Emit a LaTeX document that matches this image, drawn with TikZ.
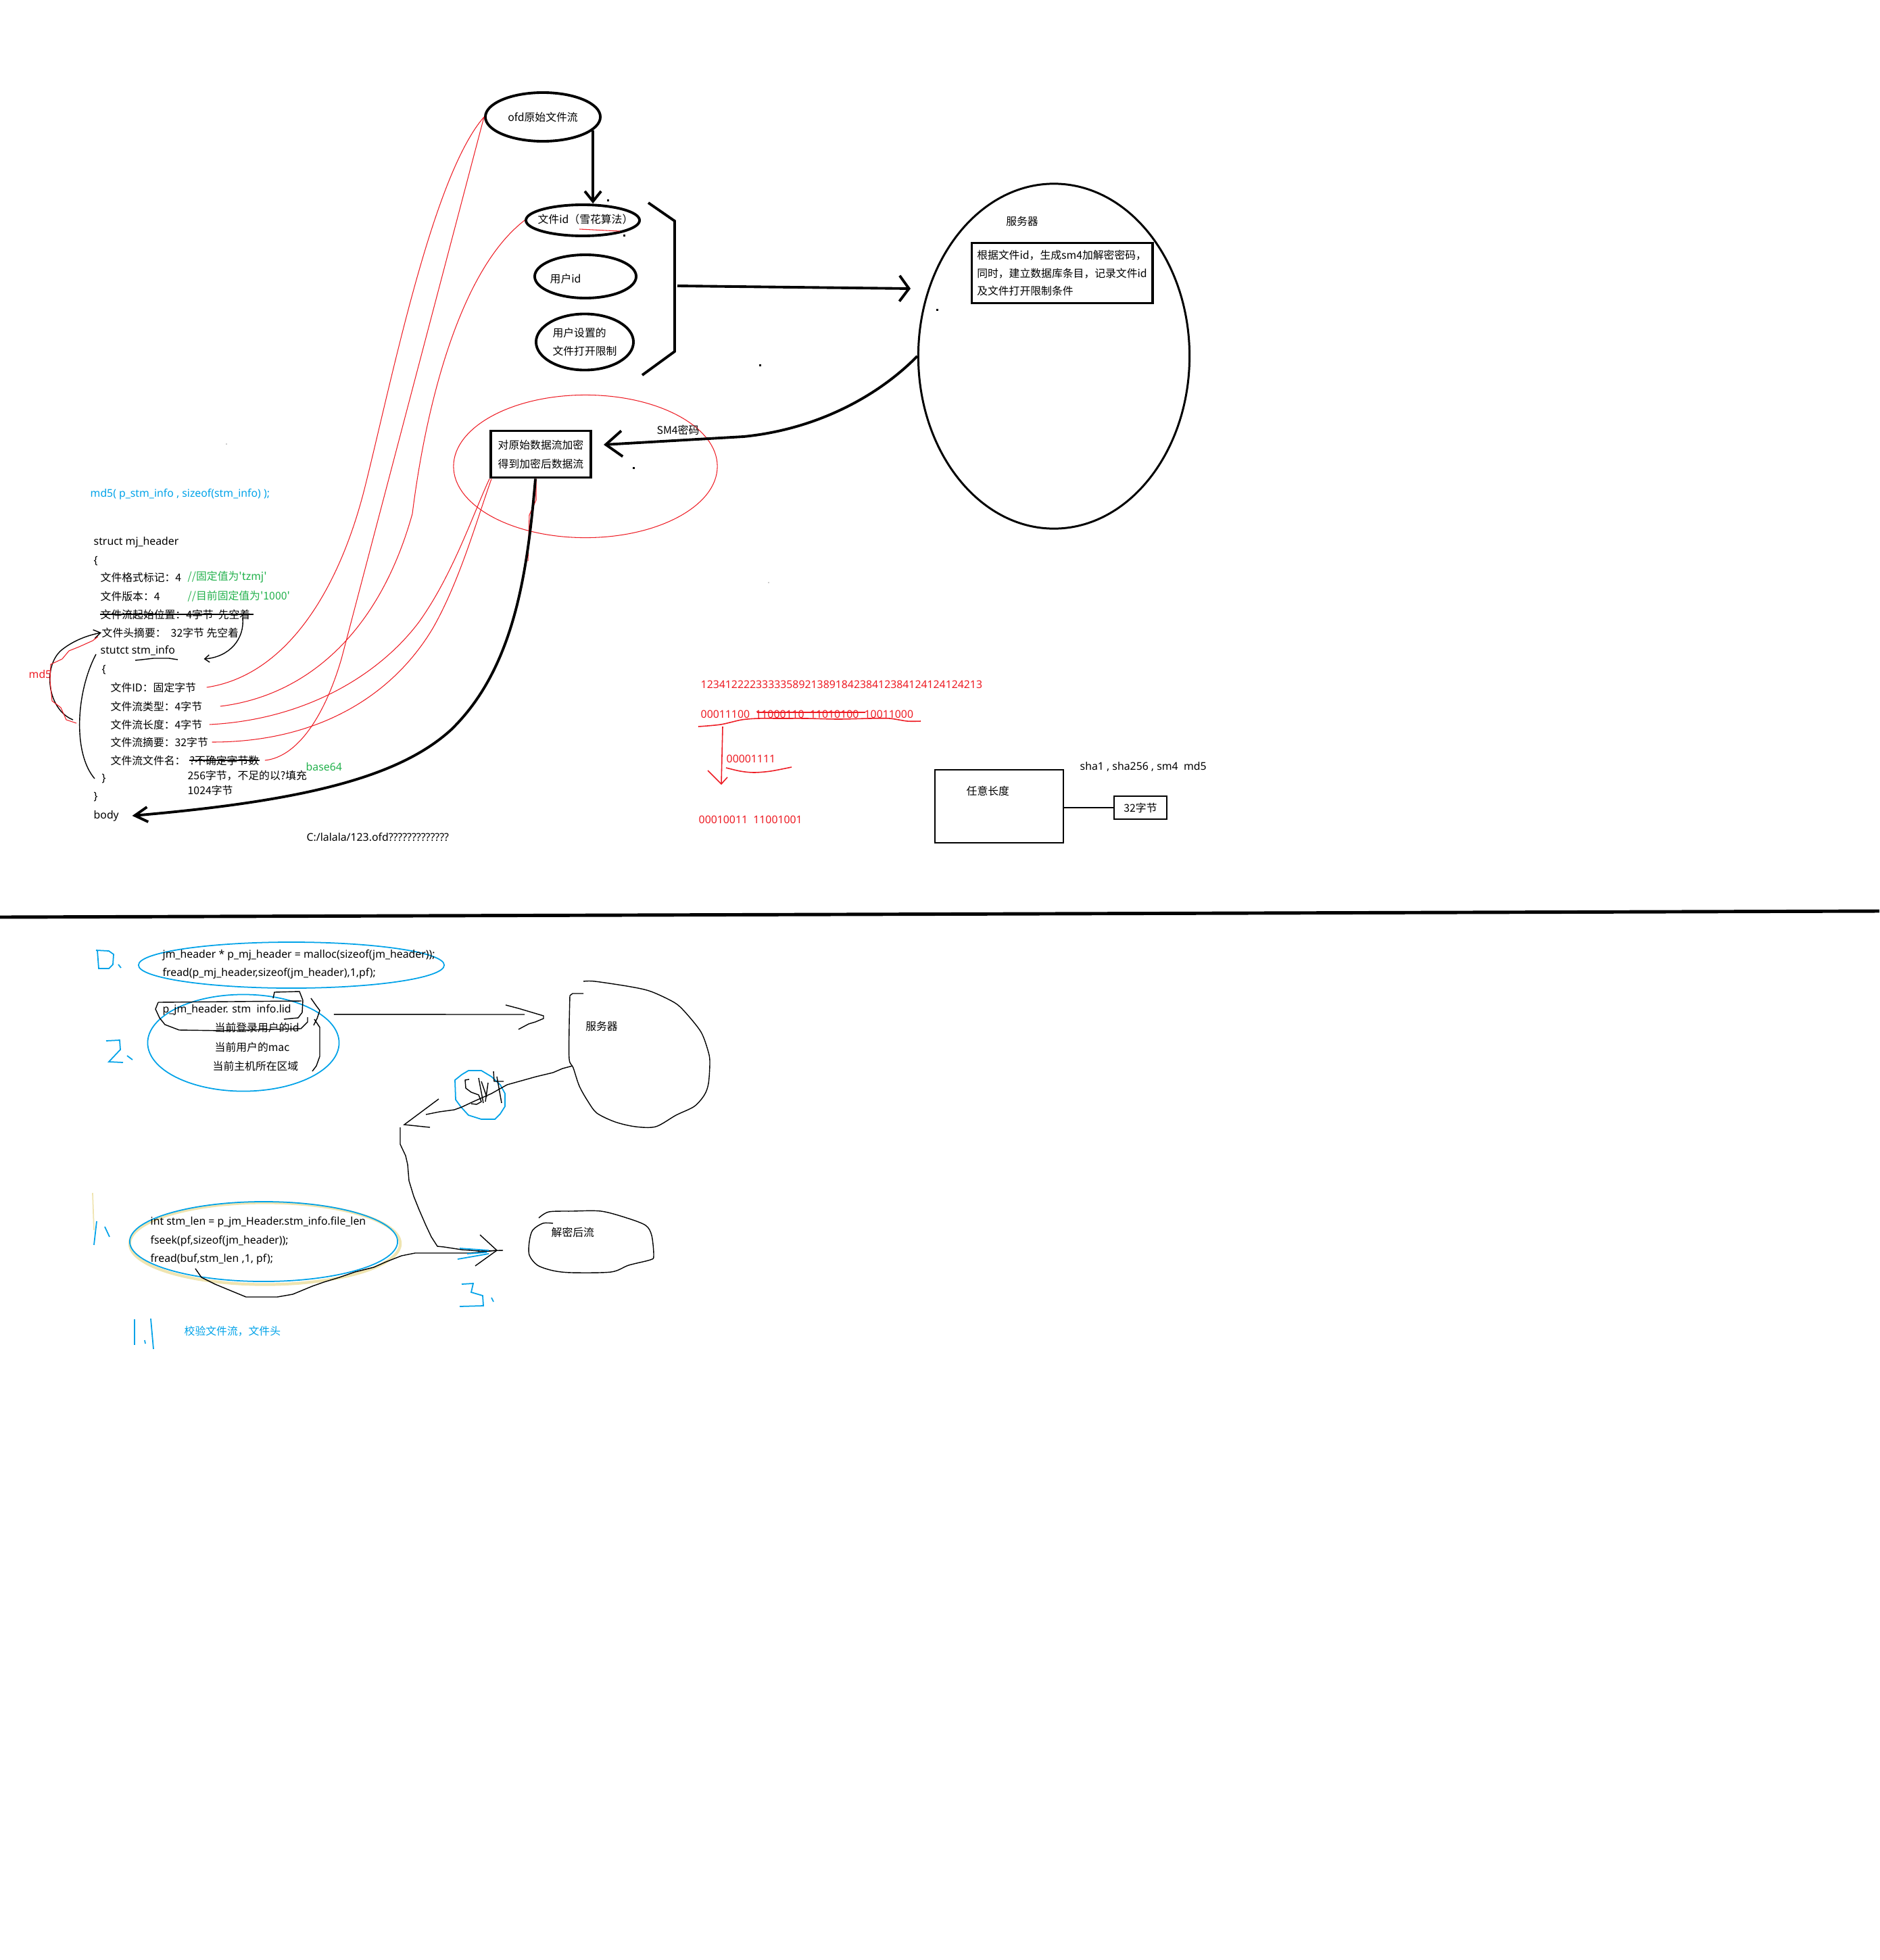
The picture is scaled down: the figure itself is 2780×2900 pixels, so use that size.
\documentclass[tikz,border=0pt]{standalone}
\usepackage{fontspec}
\setmainfont{Noto Sans CJK SC}
\newfontfamily\latinfont{Noto Sans}
\usepackage{tikz}
\usepackage{xcolor}
\usetikzlibrary{shapes,arrows,arrows.meta,positioning,shapes.geometric}
\definecolor{paintred}{RGB}{237, 28, 36}
\definecolor{paintblue}{RGB}{0, 162, 232}
\definecolor{paintgreen}{RGB}{34, 177, 76}
\definecolor{paintbeige}{RGB}{239, 228, 176}
\definecolor{dotgray}{RGB}{205, 205, 205}
\tikzstyle{txt} = [
    inner sep=0pt,
    anchor=west,
    font=\fontsize{4.5}{7.6}\selectfont
]
\tikzstyle{code} = [
    txt,
    font=\latinfont\fontsize{4.5}{7.6}\selectfont
]
\tikzstyle{oval} = [
    ellipse,
    draw,
    line width=1.1pt,
    inner sep=0pt,
    font=\fontsize{4.5}{7.6}\selectfont
]
\tikzstyle{thickbox} = [
    rectangle,
    draw,
    line width=1.1pt,
    inner sep=0pt,
    font=\fontsize{4.5}{7.6}\selectfont
]
\tikzstyle{thinbox} = [
    rectangle,
    draw,
    line width=0.4pt,
    inner sep=0pt,
    font=\fontsize{4.5}{7.6}\selectfont
]
\tikzstyle{bold} = [draw=black, line width=1.1pt]
\tikzstyle{pen} = [draw=black, line width=0.4pt]
\tikzstyle{redline} = [draw=paintred, line width=0.3pt]
\tikzstyle{bluepen} = [draw=paintblue, line width=0.5pt]

\begin{document}
\begin{tikzpicture}[x=0.01cm, y=-0.01cm]
    \useasboundingbox (0,0) rectangle (2780,2900);

    \node[oval, minimum width=1.70cm, minimum height=0.72cm] (ofd) at (803,173) {ofd原始文件流};
    \node[oval, minimum width=1.68cm, minimum height=0.46cm] (fid) at (862,326) {};
    \node[txt, anchor=center] (fidtext) at (866,324) {文件id（雪花算法）};
    \node[oval, minimum width=1.50cm, minimum height=0.64cm] (uid) at (866,409) {};
    \node[txt] (uidtext) at (813,412) {用户id};
    \node[oval, minimum width=1.44cm, minimum height=0.83cm, align=left] (limit) at (865,506) {用户设置的\\文件打开限制};
    \draw[bold, -{Straight Barb[length=0.15cm, width=0.24cm]}] (ofd.-15) -- (ofd.-15 |- fid.north);
    \draw[redline] (857,339) -- (917,342);
    \draw[bold] (959,300) -- (998,327) -- (998,520) -- (950,555);
    \coordinate (brk) at (1002,423);
    \coordinate (srvin) at (1347,427);
    \draw[bold, -{Straight Barb[length=0.14cm, width=0.38cm]}] (brk) -- (srvin);

    \node[ellipse, draw, line width=0.85pt, minimum width=4.01cm, minimum height=5.10cm] (server) at (1559,527) {};
    \node[txt, anchor=center] (srvtitle) at (1512,327) {服务器};
    \node[thickbox, minimum width=2.67cm, minimum height=0.89cm, align=left] (keybox) at (1571,404) {根据文件id，生成sm4加解密密码，\\同时，建立数据库条目，记录文件id\\及文件打开限制条件};

    \node[ellipse, draw=paintred, line width=0.3pt, minimum width=3.90cm, minimum height=2.11cm] (redring) at (866,690) {};
    \node[thickbox, minimum width=1.48cm, minimum height=0.69cm, align=center, font=\fontsize{4.5}{8}\selectfont] (encbox) at (800,672) {对原始数据流加密\\得到加密后数据流};
    \coordinate (enctip) at (893,658);
    \draw[bold, -{Straight Barb[length=0.24cm, width=0.38cm]}] (server.west) .. controls (1300,585) and (1210,635) .. (1100,646) -- (enctip);
    \node[txt, anchor=center] (sm4label) at (1003,636) {SM4密码};

    \fill (898,295) rectangle ++(3,3);
    \fill (922,347) rectangle ++(3,3);
    \fill (1385,457) rectangle ++(3,3);
    \fill (1123,539) rectangle ++(3,3);
    \fill (936,691) rectangle ++(3,3);
    \fill[dotgray] (334,656) rectangle ++(2,2);
    \fill[dotgray] (1136,861) rectangle ++(2,2);

    \node[code, text=paintblue] (md5call) at (133,731) {md5( p\_stm\_info , sizeof(stm\_info) );};
    \node[code] (hdr) at (138,802) {struct mj\_header};
    \node[code] (lb1) at (138,830) {\{};
    \node[txt] (l1) at (148,854) {文件格式标记：4};
    \node[txt, text=paintgreen] (c1) at (277,854) {//固定值为\textquotesingle tzmj\textquotesingle};
    \node[txt] (l2) at (148,882) {文件版本：4};
    \node[txt, text=paintgreen] (c2) at (277,882) {//目前固定值为\textquotesingle 1000\textquotesingle};
    \node[txt] (l3) at (148,909) {文件流起始位置：4字节\ \ 先空着};
    \node[txt] (l4) at (150,936) {文件头摘要：\ \ 32字节 先空着};
    \node[code] (si) at (148,963) {stutct stm\_info};
    \node[code] (lb2) at (150,991) {\{};
    \node[txt] (f1) at (163,1017) {文件ID：固定字节};
    \node[txt] (f2) at (163,1045) {文件流类型：4字节};
    \node[txt] (f3) at (163,1072) {文件流长度：4字节};
    \node[txt] (f4) at (163,1098) {文件流摘要：32字节};
    \node[txt] (f5) at (163,1125) {文件流文件名：};
    \node[txt] (f5b) at (280,1125) {?不确定字节数};
    \node[txt] (pad) at (277,1148) {256字节，不足的以?填充};
    \node[txt] (len) at (277,1169) {1024字节};
    \node[code] (rb2) at (150,1152) {\}};
    \node[code] (rb1) at (138,1179) {\}};
    \node[code] (body) at (138,1207) {body};
    \node[code, text=paintgreen] (b64) at (452,1135) {base64};
    \node[code] (ofdpath) at (453,1239) {C:/lalala/123.ofd?????????????};
    \node[code, text=paintred] (md5label) at (42,998) {md5};

    \draw[pen, line width=0.5pt] (l3.west) -- ([xshift=0.04cm]l3.east);
    \draw[pen, line width=0.5pt] (f5b.west) -- (f5b.east);
    \draw[pen] (200,977) -- (210,976) -- (227,974) -- (250,974) -- (263,976);
    \draw[pen, -{Straight Barb[length=0.07cm, width=0.11cm]}] ([xshift=-0.12cm, yshift=-0.05cm]l3.east) .. controls (362,945) and (340,972) .. ([xshift=0.42cm, yshift=-0.12cm]si.east);
    \draw[pen, -{Straight Barb[length=0.1cm, width=0.13cm]}] (108,1065) .. controls (70,1050) and (62,985) .. (92,961) .. controls (110,947) and (130,940) .. (l4.west);
    \draw[redline] (113,1070) -- (98,1065) -- (90,1047) -- (77,1037) -- (74,1007) -- (75,983) -- (92,975) -- (102,963) -- (117,957) -- (137,948) -- (145,942);
    \draw[pen] ([xshift=-0.06cm, yshift=-0.05cm]si.west) .. controls (112,1025) and (108,1115) .. ([xshift=-0.1cm]rb2.west);

    \draw[redline] ([xshift=0.15cm]f1.east) .. controls (420,1000) and (500,880) .. (540,720) .. controls (580,560) and (640,260) .. (ofd.west);
    \draw[redline] ([xshift=0.08cm]f5b.east) .. controls (440,1120) and (480,1060) .. (505,975) -- (ofd.west);
    \draw[redline] ([xshift=0.26cm]f2.east) .. controls (450,1030) and (560,940) .. (610,760) .. controls (630,600) and (680,400) .. (fid.west);
    \draw[redline] ([xshift=0.1cm]f3.east) .. controls (450,1065) and (560,1000) .. (620,920) .. controls (670,850) and (700,760) .. (encbox.south west);
    \draw[redline] ([xshift=0.05cm]f4.east) .. controls (470,1098) and (580,1030) .. (640,930) .. controls (680,860) and (705,770) .. ([xshift=0.03cm]encbox.south west);
    \draw[redline] ([xshift=-0.07cm]encbox.south) -- (793,740) -- (783,762) -- (781,830);
    \draw[bold, -{Straight Barb[length=0.19cm, width=0.22cm]}] ([xshift=-0.08cm]encbox.south) .. controls (780,850) and (760,990) .. (667,1080) .. controls (590,1150) and (450,1185) .. ([xshift=0.19cm]body.east);

    \node[code, text=paintred] (digits) at (1036,1013) {1234122223333358921389184238412384124124124213};
    \node[code, text=paintred] (bits) at (1036,1057) {00011100\ \ 11000110\ \ 11010100\ \ 10011000};
    \draw[redline, line width=0.45pt] (1120,1054) -- (1280,1054);
    \draw[redline, line width=0.45pt] plot[smooth] coordinates {(1033,1075) (1066,1072) (1097,1065) (1122,1063) (1153,1063) (1194,1063) (1240,1064) (1286,1063) (1316,1063) (1342,1067) (1362,1067)};
    \node[code, text=paintred] (bits2) at (1074,1123) {00001111};
    \draw[redline, line width=0.45pt] plot[smooth] coordinates {(1074,1136) (1095,1141) (1115,1143) (1140,1141) (1171,1135)};
    \node[code, text=paintred] (bits3) at (1033,1213) {00010011\ \ 11001001};
    \draw[redline, line width=0.45pt] (1069,1075) -- (1067,1160);
    \draw[redline, line width=0.45pt] (1047,1140) -- (1067,1160) -- (1076,1150);

    \node[thinbox, minimum width=1.90cm, minimum height=1.08cm] (anylen) at (1478,1193) {};
    \node[txt] (anylentext) at (1429,1170) {任意长度};
    \node[thinbox, minimum width=0.78cm, minimum height=0.34cm] (digest) at (1687,1195) {32字节};
    \draw[pen] (anylen.east |- digest.west) -- (digest.west);
    \node[code] (algos) at (1597,1134) {sha1 , sha256 , sm4\ \ md5};

    \draw[line width=1.4pt] (0,1357) -- (2780,1348);

    \node[ellipse, draw=paintblue, line width=0.5pt, minimum width=4.52cm, minimum height=0.68cm] (alloc) at (431,1428) {};
    \node[code] (alloc1) at (240,1413) {jm\_header * p\_mj\_header = malloc(sizeof(jm\_header));};
    \node[code] (alloc2) at (240,1440) {fread(p\_mj\_header,sizeof(jm\_header),1,pf);};
    \draw[bluepen] (144,1406) -- (146,1433) -- (161,1433) -- (167,1427) -- (168,1412) -- (161,1407) -- (142,1406);
    \draw[bluepen] (175,1427) -- (179,1432);

    \node[ellipse, draw=paintblue, line width=0.5pt, minimum width=2.83cm, minimum height=1.43cm] (check) at (360,1543) {};
    \node[code] (lid) at (240,1494) {p\_jm\_header. stm\ \ info.lid};
    \node[txt] (cur1) at (317,1520) {当前登录用户的id};
    \node[txt] (cur2) at (317,1549) {当前用户的mac};
    \node[txt] (cur3) at (314,1577) {当前主机所在区域};
    \draw[pen] (234,1483) -- (446,1481);
    \draw[pen] (404,1477) -- (406,1468) -- (443,1467) -- (448,1480) -- (447,1498) -- (441,1506) -- (420,1508);
    \draw[pen] (234,1483) -- (230,1493) -- (236,1506) -- (244,1516) -- (265,1524) -- (330,1525) -- (445,1522) -- (455,1512) -- (455,1505);
    \draw[pen] (460,1477) -- (467,1487) -- (473,1495) -- (469,1507) -- (464,1517);
    \draw[pen] (465,1508) -- (473,1520) -- (473,1563) -- (468,1577) -- (462,1585);
    \draw[bluepen] (157,1540) -- (177,1539) -- (178,1553) -- (161,1571) -- (182,1572);
    \draw[bluepen] (188,1562) -- (196,1568);

    \draw[pen] plot[smooth] coordinates {(863,1452) (880,1452) (933,1460) (963,1467) (997,1483) (1013,1497) (1037,1527) (1048,1557) (1050,1573) (1048,1603) (1042,1620) (1027,1637) (1000,1650) (970,1667) (940,1667) (910,1660) (883,1647) (870,1630) (857,1607) (848,1580) (842,1567) (842,1518) (843,1473)};
    \draw[pen] (843,1473) -- (847,1470) -- (863,1470);
    \node[txt, anchor=center] (srv2title) at (890,1518) {服务器};
    \coordinate (srv2in) at (804,1503);
    \draw[pen] ([xshift=0.18cm]check.20) -- (776,1501);
    \draw[pen] (748,1487) -- (767,1492) -- (srv2in) -- (804,1507) -- (792,1512) -- (782,1515) -- (767,1523);

    \draw[bluepen] (683,1590) -- (693,1584) -- (712,1584) -- (727,1593) -- (740,1605) -- (747,1618) -- (747,1637) -- (740,1648) -- (732,1656) -- (712,1656) -- (693,1650) -- (682,1638) -- (674,1627) -- (673,1598) -- (683,1590);
    \draw[pen] (694,1597) -- (688,1598) -- (689,1610) -- (697,1616) -- (708,1620) -- (712,1630) -- (705,1634) -- (697,1633);
    \draw[pen] (708,1595) -- (715,1632);
    \draw[pen] (712,1600) -- (720,1623);
    \draw[pen] (722,1602) -- (718,1630);
    \draw[pen] (730,1585) -- (731,1600) -- (745,1600);
    \draw[pen] (735,1593) -- (742,1632);
    \draw[pen] (847,1577) -- (832,1581) -- (818,1587) -- (793,1593) -- (750,1605) -- (727,1618) -- (700,1630) -- (683,1638) -- (672,1642) -- (650,1645) -- (630,1649);
    \draw[pen] (649,1626) -- (598,1664) -- (636,1668);

    \node[ellipse, draw=paintbeige, line width=1.2pt, minimum width=4.00cm, minimum height=1.21cm] (readshade) at (392,1840) {};
    \node[ellipse, draw=paintblue, line width=0.5pt, minimum width=3.96cm, minimum height=1.18cm] (readbody) at (390,1837) {};
    \node[code] (read1) at (222,1808) {int stm\_len = p\_jm\_Header.stm\_info.file\_len};
    \node[code] (read2) at (222,1836) {fseek(pf,sizeof(jm\_header));};
    \node[code] (read3) at (222,1863) {fread(buf,stm\_len ,1, pf);};

    \draw[pen] plot[smooth] coordinates {(797,1802) (812,1793) (846,1792) (889,1792) (927,1802) (955,1813) (964,1828) (967,1858) (962,1864) (930,1872) (904,1882) (846,1883) (818,1880) (795,1872) (783,1857) (783,1837) (788,1820) (803,1810) (818,1810)};
    \node[txt] (plain) at (815,1823) {解密后流};
    \coordinate (dectip) at (735,1850);
    \draw[pen] (592,1668) -- (592,1693) -- (600,1710) -- (603,1723) -- (605,1747) -- (612,1770) -- (620,1790) -- (630,1813) -- (638,1830) -- (647,1844) -- (657,1845) -- (683,1849) -- (710,1851) -- (744,1850);
    \draw[pen] (289,1877) -- (298,1890) -- (318,1900) -- (347,1912) -- (364,1919) -- (410,1919) -- (433,1915) -- (462,1903) -- (479,1897) -- (502,1890) -- (525,1882) -- (553,1875) -- (571,1867) -- (594,1858) -- (614,1854) -- (697,1854) -- (dectip);
    \draw[pen] (710,1827) -- (dectip) -- (703,1873);
    \draw[bluepen] (680,1847) -- (723,1850);
    \draw[bluepen] (691,1855) -- (720,1853);
    \draw[bluepen] (677,1863) -- (723,1855);
    \draw[bluepen] (683,1900) -- (700,1899) -- (697,1912) -- (714,1917) -- (715,1932) -- (680,1933);
    \draw[bluepen] (727,1920) -- (730,1926);

    \draw[draw=paintbeige, line width=0.5pt] (137,1765) -- (139,1820);
    \draw[bluepen] (143,1807) -- (139,1842);
    \draw[bluepen] (155,1815) -- (162,1830);
    \draw[bluepen] (199,1952) -- (199,1990);
    \draw[bluepen] (223,1951) -- (227,1996);
    \draw[bluepen] (214,1983) -- (215,1988);
    \node[txt, text=paintblue] (verify) at (272,1970) {校验文件流，文件头};
\end{tikzpicture}
\end{document}
